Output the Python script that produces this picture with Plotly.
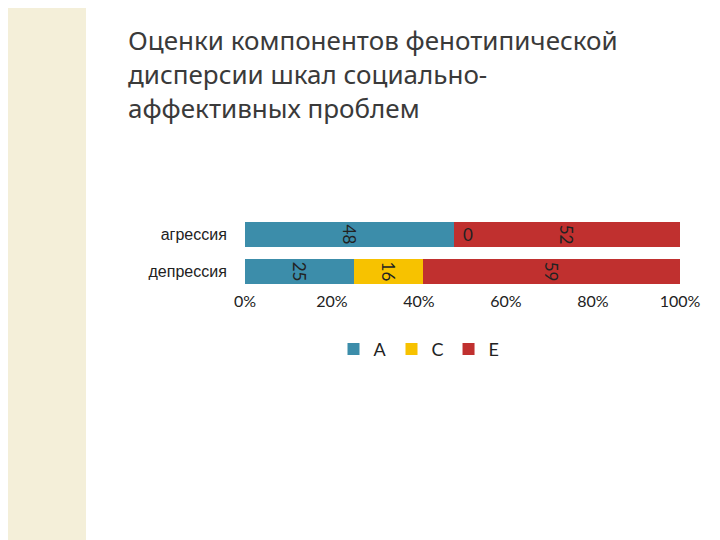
import plotly.graph_objects as go

categories = ["депрессия", "агрессия"]
series_names = ["A", "C", "E"]
A_vals = [25, 48]
C_vals = [16, 0]
E_vals = [59, 52]
colors = ["#3C8DAA", "#F7C200", "#C0302F"]
tick_vals = [0, 20, 40, 60, 80, 100]
tick_text = ["0%", "20%", "40%", "60%", "80%", "100%"]

fig = go.Figure()
for name, vals, col in zip(series_names, [A_vals, C_vals, E_vals], colors):
    fig.add_trace(go.Bar(
        y=categories, x=vals, name=name, orientation="h",
        marker=dict(color=col, line=dict(width=0)),
        text=[str(v) for v in vals], textposition="inside",
        insidetextanchor="middle",
        textfont=dict(color="#222222", size=17, family="Lato"),
        constraintext="none",
    ))

# zero-width segment labels (plotly hides them)
for i, v in enumerate(C_vals):
    if v == 0:
        fig.add_annotation(x=A_vals[i] + C_vals[i], y=categories[i], text="0",
                           showarrow=False, xshift=14,
                           font=dict(color="#222222", size=17, family="Lato"))

fig.update_layout(
    barmode="stack", bargap=0.35,
    width=720, height=540,
    paper_bgcolor="white", plot_bgcolor="white",
    margin=dict(l=237, r=48, t=208, b=258, autoexpand=False),
    xaxis=dict(range=[0, 100], tickvals=tick_vals, ticktext=tick_text,
               showgrid=False, zeroline=False, showline=False, automargin=False,
               tickfont=dict(size=16, family="Lato", color="#222222")),
    yaxis=dict(showgrid=False, showline=False, ticks="outside", ticklen=14,
               tickcolor="white", automargin=False,
               tickfont=dict(size=16, family="Liberation Sans", color="#222222")),
    legend=dict(orientation="h", x=0.4, y=-0.8, xanchor="center", yanchor="middle",
                font=dict(size=18, family="Lato", color="#222222"),
                traceorder="normal"),
    showlegend=True,
    shapes=[dict(type="rect", xref="paper", yref="paper", layer="below",
                 x0=-237/435, x1=(78-237)/435, y0=-10, y1=10,
                 fillcolor="#F4EFD9", line=dict(width=0))],
)
fig.add_annotation(
    text="Оценки компонентов фенотипической<br>дисперсии шкал социально-<br>аффективных проблем",
    xref="paper", yref="paper", x=(118-237)/435, y=1 + (208-12)/74,
    xanchor="left", yanchor="top", align="left", showarrow=False,
    font=dict(size=26, family="Noto Sans", color="#3a3a3a"))
fig.write_html("out.html")
